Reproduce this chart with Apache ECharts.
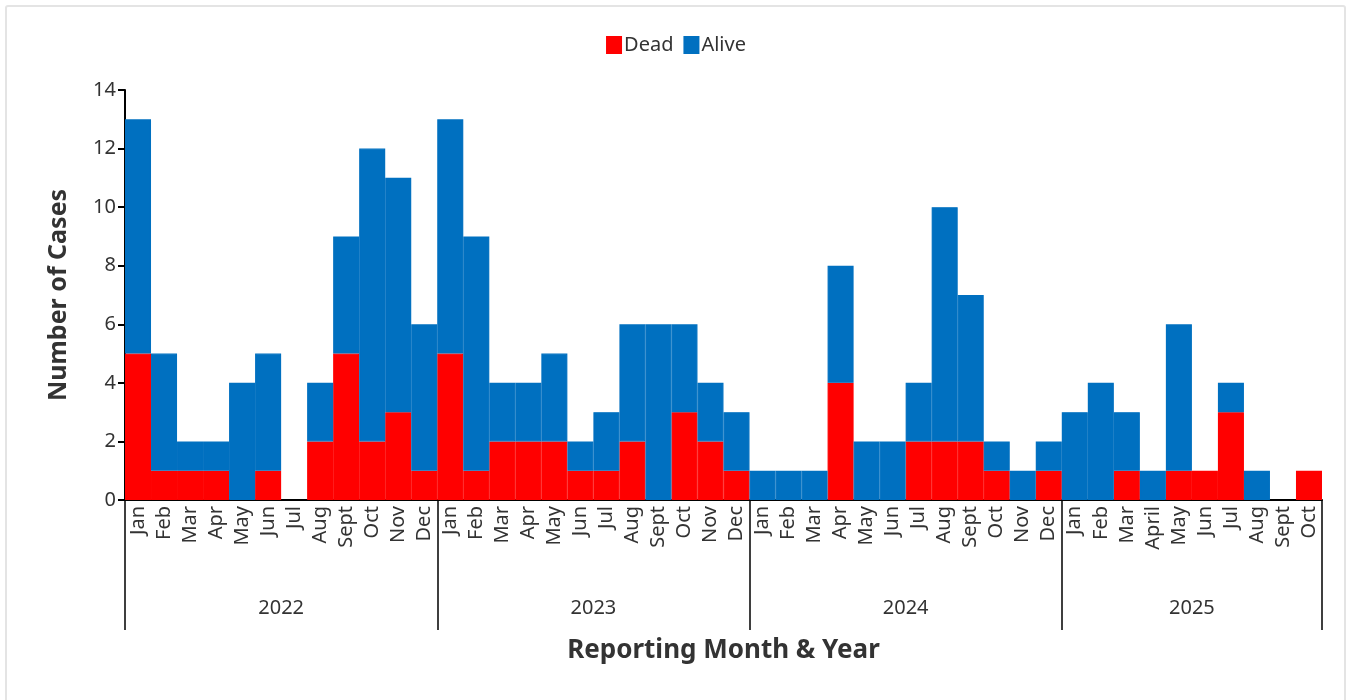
<!DOCTYPE html>
<html>
<head>
<meta charset="utf-8">
<script src="https://cdn.jsdelivr.net/npm/echarts@6/dist/echarts.min.js"></script>
<style>
html,body{margin:0;padding:0;background:#fff;}
#frame{position:absolute;left:5px;top:5px;width:1341px;height:720px;border:2px solid #e4e4e4;border-radius:3px;box-sizing:border-box;}
#chart{position:absolute;left:0;top:0;width:1352px;height:700px;}
</style>
</head>
<body>
<div id="frame"></div>
<div id="chart"></div>
<script>
const months = [
  'Jan','Feb','Mar','Apr','May','Jun','Jul','Aug','Sept','Oct','Nov','Dec',
  'Jan','Feb','Mar','Apr','May','Jun','Jul','Aug','Sept','Oct','Nov','Dec',
  'Jan','Feb','Mar','Apr','May','Jun','Jul','Aug','Sept','Oct','Nov','Dec',
  'Jan','Feb','Mar','April','May','Jun','Jul','Aug','Sept','Oct'
];
const years = ['2022','2023','2024','2025'];
const monthsPerYear = [12,12,12,10];
const dead = [
  5,1,1,1,0,1,0,2,5,2,3,1,
  5,1,2,2,2,1,1,2,0,3,2,1,
  0,0,0,4,0,0,2,2,2,1,0,1,
  0,0,1,0,1,1,3,0,0,1
];
const alive = [
  8,4,1,1,4,4,0,2,4,10,8,5,
  8,8,2,2,3,1,2,4,6,3,2,2,
  1,1,1,4,2,2,2,8,5,1,1,1,
  3,4,2,1,5,0,1,1,0,0
];
const yTicks = [0,2,4,6,8,10,12,14];

// year boundaries and centers (in category units)
const bounds = [0];
monthsPerYear.forEach(n => bounds.push(bounds[bounds.length-1] + n));
const centers = years.map((y,i) => (bounds[i] + bounds[i+1]) / 2);
const noZero = arr => arr.map(v => v === 0 ? '-' : v);

const FONT = '"Noto Sans", "Open Sans", sans-serif';
const chart = echarts.init(document.getElementById('chart'), null, {renderer:'canvas'});
chart.setOption({
  animation: false,
  textStyle: {fontFamily: FONT},
  legend: {
    top: 30, left: 'center',
    itemWidth: 14, itemHeight: 16, itemGap: 10,
    icon: 'rect',
    textStyle: {fontSize: 20, color: '#333', fontFamily: FONT, padding:[0,0,0,-2]},
    data: ['Dead','Alive']
  },
  grid: {left: 125, right: 30, top: 90, bottom: 200, containLabel: false},
  xAxis: [
    {
      type: 'category',
      data: months,
      boundaryGap: true,
      axisLine: {show: true, lineStyle: {color: '#000', width: 2}},
      axisTick: {show: false},
      axisLabel: {rotate: 90, fontSize: 20, color: '#333', margin: 6, interval: 0, fontFamily: FONT, hideOverlap: false}
    },
    {
      type: 'value',
      position: 'bottom',
      min: 0, max: bounds[bounds.length-1],
      axisLine: {show: false},
      splitLine: {show: false},
      axisTick: {show: true, length: 130, lineStyle: {color: '#000', width: 1.5}, customValues: bounds},
      axisLabel: {
        show: true, fontSize: 20, color: '#333', margin: 98, fontFamily: FONT,
        customValues: centers,
        formatter: function(v){ const i = centers.indexOf(v); return i >= 0 ? years[i] : ''; }
      },
      name: 'Reporting Month & Year',
      nameLocation: 'middle',
      nameGap: 138,
      nameTextStyle: {fontSize: 26, fontWeight: 'bold', color: '#333', fontFamily: FONT}
    }
  ],
  yAxis: {
    type: 'value',
    min: 0, max: 14, interval: 2,
    axisLine: {show: true, lineStyle: {color: '#000', width: 2}},
    axisTick: {show: true, length: 7, lineStyle: {color: '#000', width: 2}},
    splitLine: {show: false},
    axisLabel: {fontSize: 20, color: '#333', margin: 9, fontFamily: FONT},
    name: 'Number of Cases',
    nameLocation: 'middle',
    nameGap: 54,
    nameTextStyle: {fontSize: 25, fontWeight: 'bold', color: '#333', fontFamily: FONT}
  },
  series: [
    {name: 'Dead', type: 'bar', stack: 'total', data: noZero(dead), barCategoryGap: '0%',
     itemStyle: {color: '#FF0000', borderColor: '#FF0000', borderWidth: 1.2}, xAxisIndex: 0},
    {name: 'Alive', type: 'bar', stack: 'total', data: noZero(alive), barCategoryGap: '0%',
     itemStyle: {color: '#0070C0', borderColor: '#0070C0', borderWidth: 1.2}, xAxisIndex: 0}
  ]
});
</script>
</body>
</html>
